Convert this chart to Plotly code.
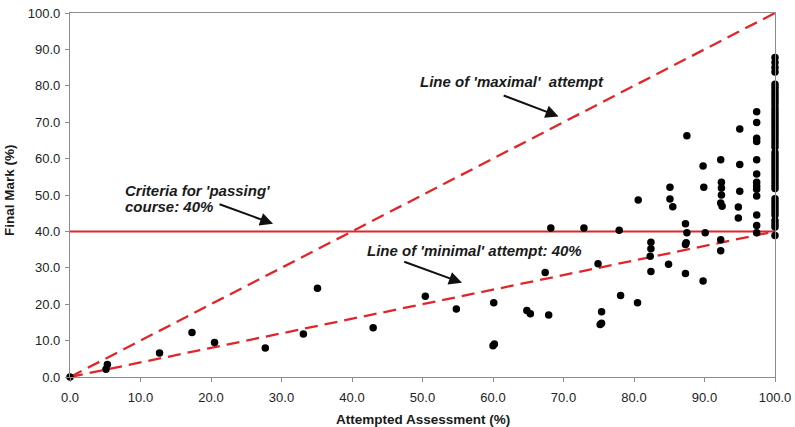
import plotly.graph_objects as go

# Scatter data: (Attempted Assessment %, Final Mark %)
attempted = [
    0.0, 5.1, 5.3, 12.7, 17.3, 20.5, 27.7, 33.1, 35.1, 43.0,
    50.4, 54.8, 60.1, 60.0, 60.2, 64.8, 65.3, 67.9, 67.4, 68.2,
    72.9, 74.9, 75.4, 75.2, 75.4, 77.9, 78.1, 80.5, 80.6, 82.4,
    82.4, 82.3, 82.4, 84.9, 85.1, 85.1, 85.5, 87.3, 87.5, 87.3,
    87.4, 87.3, 87.5, 89.8, 89.9, 90.1, 89.8, 92.3, 92.4, 92.4,
    92.4, 92.3, 92.5, 92.3, 92.3, 95.0, 95.0, 95.0, 94.8, 94.8,
    97.4, 97.4, 97.4, 97.4, 97.4, 97.4, 97.4, 97.4, 97.4, 97.4,
    97.4, 97.4, 97.4,
]
final_mark = [
    0.0, 2.1, 3.4, 6.6, 12.2, 9.5, 8.0, 11.8, 24.4, 13.5,
    22.2, 18.7, 20.4, 8.6, 9.1, 18.3, 17.4, 17.0, 28.7, 40.9,
    40.9, 31.1, 17.9, 14.4, 14.8, 40.3, 22.4, 20.4, 48.6, 37.0,
    35.2, 33.2, 29.0, 31.0, 52.1, 48.9, 46.8, 42.1, 39.6, 36.4,
    36.9, 28.4, 66.3, 58.0, 52.1, 39.6, 26.4, 59.7, 53.5, 51.9,
    50.0, 47.8, 46.9, 37.7, 34.7, 68.1, 58.4, 51.0, 46.7, 43.7,
    72.9, 69.9, 65.6, 64.7, 59.7, 55.8, 53.5, 52.5, 51.6, 49.7,
    44.5, 41.6, 39.6,
]
# Students who attempted everything (100%)
full_attempt_marks = [
    87.8, 86.4, 85.0, 83.8,
    80.4, 79.5, 78.6, 77.7, 76.8, 75.9, 75.0, 74.0, 73.1, 72.2,
    71.3, 70.4, 69.5, 68.6, 67.7, 66.8, 65.9, 65.0, 64.1, 63.2,
    61.7, 60.8, 59.9, 59.0, 58.1, 57.2, 56.3, 55.4, 54.5, 53.6,
    52.7, 51.8, 49.0, 48.1, 47.2, 46.3, 45.4, 44.5, 43.0, 42.0,
    41.2, 38.9,
]

# Reference lines
max_line_x = [0, 100]
max_line_y = [0, 100]
min_line_x = [0, 100]
min_line_y = [0, 40]
pass_line_x = [0, 100]
pass_line_y = [40, 40]

x_ticks = [0, 10, 20, 30, 40, 50, 60, 70, 80, 90, 100]
y_ticks = [0, 10, 20, 30, 40, 50, 60, 70, 80, 90, 100]

all_x = attempted + [100.0] * len(full_attempt_marks)
all_y = final_mark + full_attempt_marks

RED = "#e0262b"
FONT = "Liberation Sans, Arial, sans-serif"

fig = go.Figure()
fig.add_trace(go.Scatter(x=pass_line_x, y=pass_line_y, mode="lines",
                         line=dict(color=RED, width=2), hoverinfo="skip", cliponaxis=False))
fig.add_trace(go.Scatter(x=max_line_x, y=max_line_y, mode="lines",
                         line=dict(color=RED, width=2.3, dash="13px,7px"), hoverinfo="skip", cliponaxis=False))
fig.add_trace(go.Scatter(x=min_line_x, y=min_line_y, mode="lines",
                         line=dict(color=RED, width=2.3, dash="13px,7px"), hoverinfo="skip", cliponaxis=False))
fig.add_trace(go.Scatter(x=all_x, y=all_y, mode="markers",
                         marker=dict(color="#000000", size=7.5), cliponaxis=False))

ann_font = dict(family=FONT, size=15, color="#1a1a1a", weight="bold", style="italic")
title_font = dict(family=FONT, size=13.5, color="#1a1a1a", weight="bold")

def text_ann(x, y, text):
    return dict(x=x, y=y, xref="x", yref="y", text=text, showarrow=False,
                xanchor="left", yanchor="middle", font=ann_font)

def arrow_ann(x0, y0, x1, y1):
    return dict(x=x1, y=y1, ax=x0, ay=y0, xref="x", yref="y", axref="x", ayref="y",
                text="", showarrow=True, arrowhead=2, arrowsize=1.3, arrowwidth=2,
                arrowcolor="#111111", standoff=0, startstandoff=0)

annotations = [
    text_ann(49.4, 81.1, "Line of 'maximal'  attempt"),
    text_ann(7.45, 51.3, "Criteria for 'passing'"),
    text_ann(7.45, 46.9, "course: 40%"),
    text_ann(41.8, 34.8, "Line of 'minimal' attempt: 40%"),
    arrow_ann(61.3, 77.5, 69.3, 71.6),
    arrow_ann(21.0, 47.6, 28.8, 42.1),
    arrow_ann(47.2, 31.8, 55.6, 25.9),
    # axis titles
    dict(x=0.5, y=0, xref="paper", yref="paper", yshift=-42, text="Attempted Assessment (%)",
         showarrow=False, xanchor="center", yanchor="middle", font=title_font),
    dict(x=0, y=0.5, xref="paper", yref="paper", xshift=-61, yshift=5, text="Final Mark (%)",
         textangle=-90, showarrow=False, xanchor="center", yanchor="middle", font=title_font),
]

axis_common = dict(
    showgrid=False, zeroline=False, showline=True, linecolor="#8c8c8c", linewidth=1.2,
    mirror=True, ticks="outside", ticklen=4, tickcolor="#8c8c8c", automargin=False,
    tickfont=dict(family=FONT, size=13, color="#222222"),
)

fig.update_layout(
    width=795, height=427,
    margin=dict(l=70, r=20, t=13, b=50),
    paper_bgcolor="white", plot_bgcolor="white",
    showlegend=False,
    annotations=annotations,
    xaxis=dict(range=[0, 100], tickvals=x_ticks, ticktext=[f"{v:.1f}" for v in x_ticks],
               ticklabelstandoff=4, **axis_common),
    yaxis=dict(range=[0, 100], tickvals=y_ticks, ticktext=[f"{v:.1f}" for v in y_ticks],
               ticklabelstandoff=2, **axis_common),
)

fig.write_html("out.html", config={"displayModeBar": False},
               post_script="document.body.style.margin='0px';")
